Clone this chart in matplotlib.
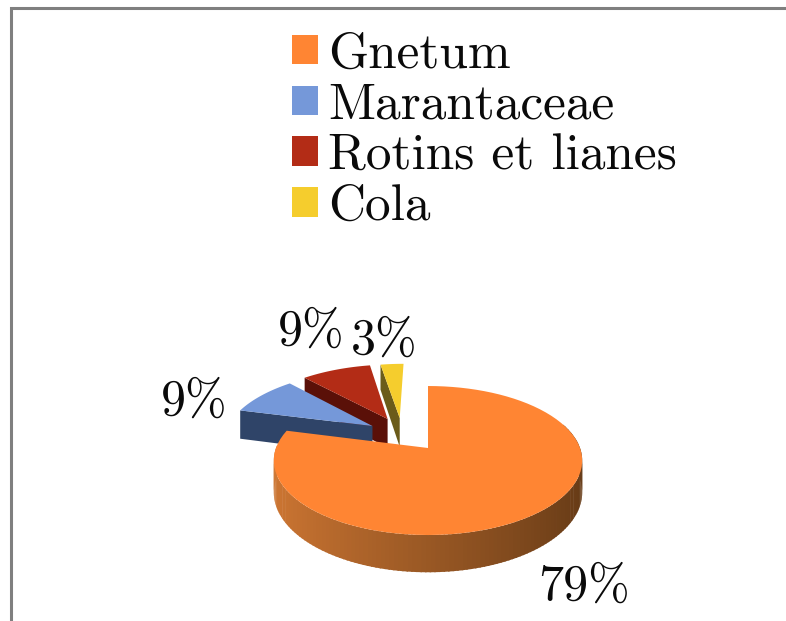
import numpy as np
import matplotlib
matplotlib.use("Agg")
import matplotlib.pyplot as plt
from matplotlib.patches import Patch, Polygon
from matplotlib.lines import Line2D

labels = ["Gnetum", "Marantaceae", "Rotins et lianes", "Cola"]
values = [79, 9, 9, 3]
pct_labels = ["79%", "9%", "9%", "3%"]

colors = ["#FF8533", "#7598D9", "#B32C16", "#F5CD2D"]
side_colors = ["#8A4E1E", "#2F4468", "#5A1008", "#6B5B1A"]

# how far each slice is pulled out (in pie radii, right / back)
explode = [(0, 0), (-0.385, 0.32), (-0.285, 0.43), (-0.20, 0.445)]

# pie placement in pixels, p is the perspective strength
cx, cy = 428, 448
rx, ry = 152, 72.4
p = 0.168
depth = 31

# label centres in pixels
label_pos = [(584, 587), (194, 402), (311, 332), (384, 341)]

plt.rcParams["font.family"] = ["cmr10", "DejaVu Serif"]
plt.rcParams["axes.formatter.use_mathtext"] = True

fig = plt.figure(figsize=(7.86, 6.21), dpi=100)
ax = fig.add_axes([0, 0, 1, 1])
ax.set_xlim(0, 786)
ax.set_ylim(621, 0)
ax.axis("off")


def project(u, v, drop=0.0):
    s = 1 + p * v
    return cx + rx * u / s, cy - ry * v / s + drop * depth / s


def rim(start, end, off, n=80):
    t = np.radians(np.linspace(start, end, n))
    return np.sin(t) + off[0], np.cos(t) + off[1]


def lerp_color(a, b, f):
    a = np.array(matplotlib.colors.to_rgb(a))
    b = np.array(matplotlib.colors.to_rgb(b))
    return a + (b - a) * f


angles = np.cumsum([0] + values) / sum(values) * 360

# small slices first, the big one goes over them
for i in [3, 2, 1, 0]:
    a0, a1 = angles[i], angles[i + 1]
    off = explode[i]
    u, v = rim(a0, a1, off)

    if i == 0:
        # outer wall with a left to right shading
        tt = np.linspace(70, 272, 140)
        for k in range(len(tt) - 1):
            uu, vv = rim(tt[k], tt[k + 1] + 0.5, off, n=3)
            x1, y1 = project(uu, vv)
            x2, y2 = project(uu, vv, 1)
            f = (np.sin(np.radians(tt[k])) + 1) / 2
            c = lerp_color("#CF7733", "#653A16", f)
            ax.add_patch(Polygon(np.r_[np.c_[x1, y1], np.c_[x2, y2][::-1]],
                                 closed=True, fc=c, ec="none", zorder=2))
    else:
        # radial wall that looks towards us
        ax0, ay0 = project(off[0], off[1])
        ax1, ay1 = project(off[0], off[1], 1)
        x0, y0 = project(u[0], v[0])
        x1, y1 = project(u[0], v[0], 1)
        ax.add_patch(Polygon([(x0, y0), (ax0, ay0), (ax1, ay1), (x1, y1)],
                             closed=True, fc=side_colors[i], ec="none", zorder=2))

    x, y = project(u, v)
    ax0, ay0 = project(off[0], off[1])
    ax.add_patch(Polygon(np.r_[[(ax0, ay0)], np.c_[x, y]], closed=True,
                         fc=colors[i], ec="none", zorder=2))

for txt, (lx, ly) in zip(pct_labels, label_pos):
    ax.text(lx, ly, txt, fontsize=36, ha="center", va="center", color="#0A0A0A")

# frame of the slide
ax.add_line(Line2D([10.5, 10.5, 786], [621, 8, 8], color="#7F7F7F", lw=2.2,
                   solid_joinstyle="miter"))

handles = [Patch(fc=c, ec="none") for c in colors]
leg = ax.legend(handles, labels, loc="upper left", bbox_to_anchor=(292 / 786, 1 - 32 / 621),
                frameon=False, fontsize=37, handlelength=0.506, handleheight=0.506,
                handletextpad=0.2, labelspacing=0.095, borderpad=0, borderaxespad=0)
for t in leg.get_texts():
    t.set_color("#0A0A0A")

fig.savefig("out.png", dpi=100)
